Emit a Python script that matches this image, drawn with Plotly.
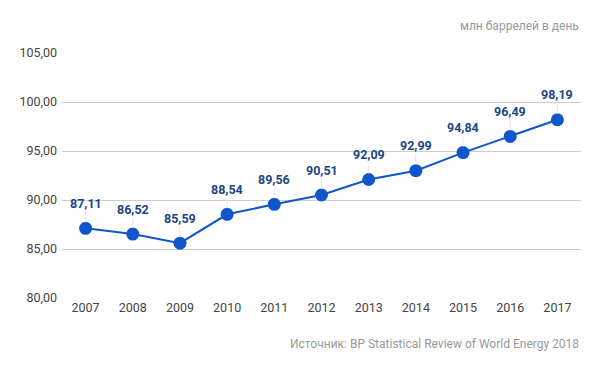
import plotly.graph_objects as go

years = ["2007", "2008", "2009", "2010", "2011", "2012", "2013", "2014", "2015", "2016", "2017"]
values = [87.11, 86.52, 85.59, 88.54, 89.56, 90.51, 92.09, 92.99, 94.84, 96.49, 98.19]
y_ticks = [80, 85, 90, 95, 100, 105]
unit_label = "млн баррелей в день"
source_label = "Источник: BP Statistical Review of World Energy 2018"

def fmt(v):
    return f"{v:.2f}".replace(".", ",")

fig = go.Figure()
fig.add_trace(go.Scatter(
    x=years, y=values, mode="lines+markers",
    line=dict(color="#1155cc", width=2),
    marker=dict(color="#1155cc", size=13),
    hoverinfo="skip",
))

annotations = []
for i, v in enumerate(values):
    annotations.append(dict(
        x=i, y=v, xref="x", yref="y", text="<b>" + fmt(v) + "</b>",
        showarrow=True, arrowhead=0, arrowwidth=1, arrowcolor="#e6e6e6",
        ax=0, ay=-25, standoff=6,
        font=dict(family="Roboto", size=12.5, color="#1c4587"),
    ))
annotations.append(dict(
    x=1, y=1, xref="paper", yref="paper", xanchor="right", yanchor="bottom",
    text=unit_label, showarrow=False, yshift=18,
    font=dict(family="Roboto", size=12, color="#999999"),
))
annotations.append(dict(
    x=1, y=0, xref="paper", yref="paper", xanchor="right", yanchor="top",
    text=source_label, showarrow=False, yshift=-37,
    font=dict(family="Roboto", size=12, color="#999999"),
))

fig.update_layout(
    width=600, height=371,
    margin=dict(l=61.5, r=18.5, t=53, b=73, autoexpand=False),
    paper_bgcolor="white", plot_bgcolor="white",
    separators=", ",
    showlegend=False,
    font=dict(family="Roboto", size=12, color="#444444"),
    xaxis=dict(type="category", range=[-0.5, 10.5], showgrid=False, showline=False,
               zeroline=False, ticks="", tickfont=dict(size=12.5, color="#444444")),
    yaxis=dict(range=[80, 105], tickvals=y_ticks, tickformat=".2f", showgrid=True,
               gridcolor="#cccccc", gridwidth=1, zeroline=False, showline=False,
               ticks="", ticklabelstandoff=4, tickfont=dict(size=12.5, color="#444444")),
    annotations=annotations,
)

fig.write_html("out.html", config={"displayModeBar": False},
               post_script="document.body.style.margin='0';")
